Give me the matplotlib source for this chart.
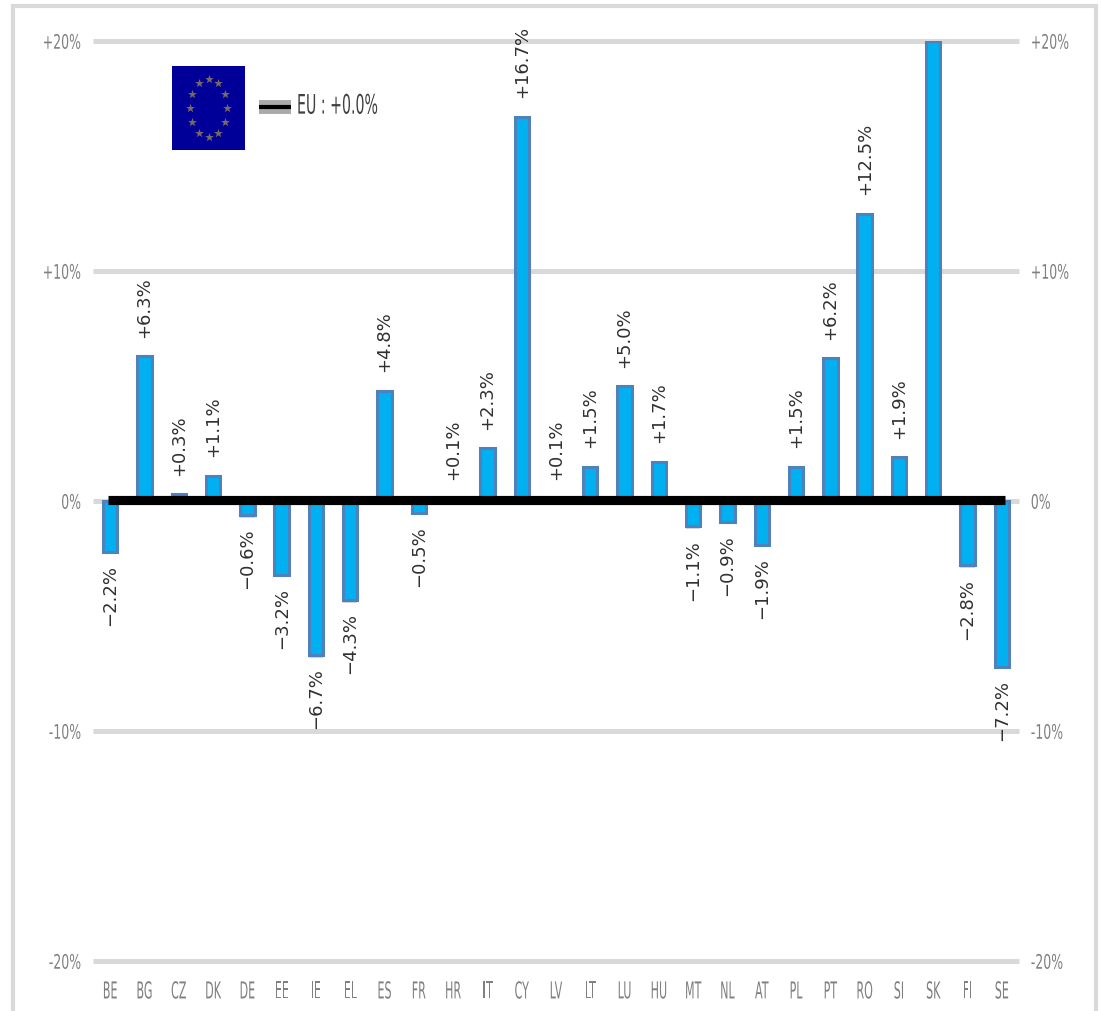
import numpy as np
import matplotlib
matplotlib.use('Agg')
import matplotlib.pyplot as plt
import matplotlib.patheffects as pe
from matplotlib.lines import Line2D
from matplotlib.patches import Rectangle
from matplotlib.transforms import Affine2D

# Values.
countries = ['BE', 'BG', 'CZ', 'DK', 'DE', 'EE', 'IE', 'EL', 'ES', 'FR', 'HR', 'IT', 'CY', 'LV',
             'LT', 'LU', 'HU', 'MT', 'NL', 'AT', 'PL', 'PT', 'RO', 'SI', 'SK', 'FI', 'SE']
changes = [-2.2, 6.3, 0.3, 1.1, -0.6, -3.2, -6.7, -4.3, 4.8, -0.5, 0.1, 2.3, 16.7, 0.1,
           1.5, 5.0, 1.7, -1.1, -0.9, -1.9, 1.5, 6.2, 12.5, 1.9, 20.0, -2.8, -7.2]
eu_change = 0.04
y_ticks = [-20, -10, 0, 10, 20]
y_tick_labels = ['-20%', '-10%', '0%', '+10%', '+20%']
legend_label = 'EU : +0.0%'

W, H = 1101, 1012


class TallText(pe.AbstractPathEffect):
    # The reference text is squeezed sideways, so stretch the glyphs up about their middle.
    def __init__(self, factor):
        super().__init__()
        self.factor = factor

    def draw_path(self, renderer, gc, tpath, affine, rgbFace=None):
        mid = tpath.get_extents().y0 + tpath.get_extents().height / 2
        stretch = Affine2D().translate(0, -mid).scale(1, self.factor).translate(0, mid)
        renderer.draw_path(gc, tpath, stretch + affine, rgbFace)


fig = plt.figure(figsize=(W / 100, H / 100), dpi=100)

# Outer frame, open at the bottom of the image.
fig.add_artist(Rectangle((13 / W, -0.05), 1083 / W, 1.05 - 7 / H, transform=fig.transFigure,
                         fill=False, edgecolor='#D9D9D9', linewidth=3))

ax = fig.add_axes([93 / W, 1 - 962 / H, 926 / W, 920 / H])
x = np.arange(len(countries))

ax.bar(x, changes, width=0.42, color='#00B0F0', edgecolor='#4F81BD', linewidth=2.2, zorder=3,
       path_effects=[pe.SimplePatchShadow(offset=(0, -2), shadow_rgbFace='#999999', alpha=0.4),
                     pe.Normal()])
ax.plot([-0.06, 26.08], [eu_change, eu_change], color='black', linewidth=6.6,
        solid_capstyle='butt', zorder=4)

ax.set_xlim(-0.5, len(countries) - 0.5)
ax.set_ylim(-20, 20)
ax.set_xticks(x)
ax.set_xticklabels(countries, fontsize=8, color='#808080', path_effects=[TallText(2.1)])
ax.set_yticks(y_ticks)
ax.tick_params(axis='both', length=0)
ax.tick_params(axis='x', pad=18)
ax.tick_params(axis='y', pad=8.5, labelright=True)
ax.set_yticklabels(y_tick_labels, fontsize=9, color='#808080')
for label in ax.get_yticklabels() + [t.label2 for t in ax.yaxis.get_major_ticks()]:
    label.set_path_effects([TallText(1.6)])
ax.grid(axis='y', color='#D9D9D9', linewidth=3.6, zorder=0)
ax.set_axisbelow(True)
for line in ax.get_ygridlines():
    line.set_clip_on(False)
    line.set_solid_capstyle('butt')
for spine in ax.spines.values():
    spine.set_visible(False)

# Rotated value labels. SK runs off the top of the scale and has no label.
for xi, value in zip(x, changes):
    if value >= y_ticks[-1]:
        continue
    ax.annotate(f'{value:+.1f}%'.replace('-', '\u2212'), (xi, value),
                xytext=(0, 14 if value > 0 else -9), textcoords='offset points', rotation=90,
                ha='center', va='bottom' if value > 0 else 'top', fontsize=13, color='#303030',
                annotation_clip=False, zorder=5)

# EU flag.
flag = fig.add_axes([172 / W, 1 - 151 / H, 73 / W, 84 / H])
flag.set_facecolor('#000099')
angles = np.linspace(0, 2 * np.pi, 12, endpoint=False)
flag.scatter(np.cos(angles) * 0.52, np.sin(angles) * 0.69, marker='*', s=45,
             color='#7A6A60', linewidths=0)
flag.set_xlim(-1, 1)
flag.set_ylim(-1, 1)
flag.set_xticks([])
flag.set_yticks([])
for spine in flag.spines.values():
    spine.set_visible(False)

# Legend key and text.
fig.add_artist(Line2D([259 / W, 291 / W], [1 - 108 / H] * 2, color='#AAAAAA', linewidth=10,
                      solid_capstyle='butt'))
fig.add_artist(Line2D([259 / W, 291 / W], [1 - 108 / H] * 2, color='black', linewidth=3,
                      solid_capstyle='butt'))
fig.text(297 / W, 1 - 106 / H, legend_label, fontsize=10.2, color='#404040', va='center',
         ha='left', path_effects=[TallText(1.9)])

fig.savefig('out.png', dpi=100)
